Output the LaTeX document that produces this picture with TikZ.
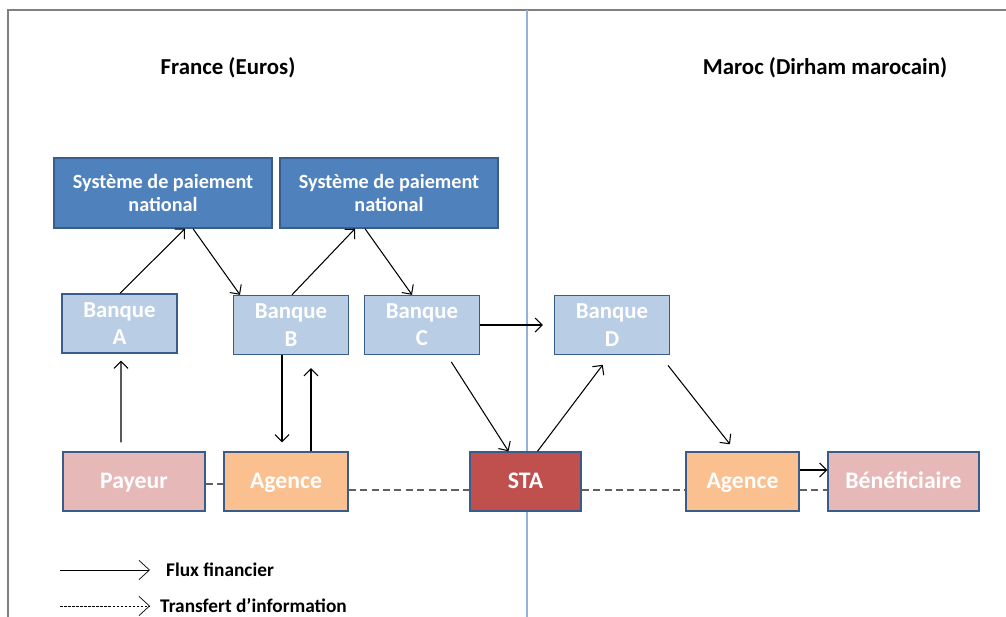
\documentclass[tikz,border=0pt]{standalone}
\usepackage{fontspec}
\setmainfont{Carlito}
\usepackage{tikz}
\usetikzlibrary{calc, arrows.meta}
\definecolor{spnfill}{HTML}{4F81BD}
\definecolor{bqfill}{HTML}{B9CDE5}
\definecolor{boxline}{HTML}{385D8A}
\definecolor{payfill}{HTML}{E6B9B8}
\definecolor{agfill}{HTML}{FAC090}
\definecolor{stafill}{HTML}{C0504D}
\definecolor{divline}{HTML}{95B3D7}
\tikzstyle{basebox} = [draw=boxline, thick, rectangle, text=white,
    font=\bfseries, align=center, inner sep=2pt]
\tikzstyle{spnbox} = [basebox, fill=spnfill, minimum width=4.36cm,
    minimum height=1.4cm, font=\bfseries\fontsize{11.5}{13.5}\selectfont]
\tikzstyle{bqbox} = [basebox, fill=bqfill, minimum width=2.3cm,
    minimum height=1.18cm, font=\bfseries\fontsize{13}{15.5}\selectfont]
\tikzstyle{lowbox} = [basebox, minimum height=1.18cm, text height=2.2ex, text depth=0.5ex,
    font=\bfseries\fontsize{13.5}{15.5}\selectfont]
\tikzstyle{flux} = [semithick, -{Straight Barb[length=4pt,width=8pt]}]
\tikzstyle{info} = [line width=0.9pt, dash pattern=on 4pt off 2.5pt, gray!75!black]

\begin{document}
\begin{tikzpicture}[x=0.02cm, y=-0.02cm]

	\useasboundingbox (0,0) rectangle (1006,617);

	% cadre et separation
	\draw[gray, thick] (8,617) |- (1006,10);
	\draw[divline, thick] (527,10) -- (527,617);

	\node[font=\bfseries\fontsize{13}{15}\selectfont] (fr) at (228,68) {France (Euros)};
	\node[font=\bfseries\fontsize{13}{15}\selectfont] (ma) at (825,68) {Maroc (Dirham marocain)};

	% systemes de paiement
	\node[spnbox] (spnA) at (163,193) {Système de paiement\\national};
	\node[spnbox] (spnB) at (389,193) {Système de paiement\\national};

	% banques
	\node[bqbox] (bqA) at (119.5,323.5) {Banque\\A};
	\node[bqbox] (bqB) at (291,325) {Banque\\B};
	\node[bqbox] (bqC) at (422,325) {Banque\\C};
	\node[bqbox] (bqD) at (612,325) {Banque\\D};

	% ligne du bas
	\node[lowbox, fill=payfill, minimum width=2.84cm] (payeur) at (134,481.5) {Payeur};
	\node[lowbox, fill=agfill, minimum width=2.48cm] (agFR) at (286,481.5) {Agence};
	\node[lowbox, fill=stafill, minimum width=2.22cm] (sta) at (525.5,481.5) {STA};
	\node[lowbox, fill=agfill, minimum width=2.26cm] (agMA) at (742.5,481.5) {Agence};
	\node[lowbox, fill=payfill, minimum width=3.02cm] (benef) at (903.5,481.5) {Bénéficiaire};

	% flux financiers
	\draw[flux] ($(bqA.north)+(0.5,0)$) -- ($(spnA.south)+(22,0)$); %A->SPN
	\draw[flux] ($(spnA.south)+(30,0)$) -- ($(bqB.north)+(-51,0)$); %SPN->B
	\draw[flux] ($(bqB.north)+(1,0)$) -- ($(spnB.south)+(-34,0)$); %B->SPN
	\draw[flux] ($(spnB.south)+(-24,0)$) -- ($(bqC.north)+(-10,0)$); %SPN->C
	\draw[flux, shorten >=0.22cm] (bqC.east) -- (bqD.west); %C->D
	\draw[flux, shorten <=0.16cm] ($(bqC.south)+(25,0)$) -- ($(sta.north)+(-17,0)$); %C->STA
	\draw[flux, shorten >=0.24cm] ($(sta.north)+(12,0)$) -- ($(bqD.south)+(-2,0)$); %STA->D
	\draw[flux, shorten <=0.26cm, shorten >=0.18cm] ($(bqD.south)+(48,0)$) -- ($(agMA.north)+(-7,0)$); %D->agence
	\draw[flux] ($(agMA.east)+(0,-11.5)$) -- ($(benef.west)+(0,-11.5)$); %agence->benef
	\draw[flux, shorten <=0.18cm, shorten >=0.14cm] ($(payeur.north)+(-13,0)$) -- ($(bqA.south)+(1.5,0)$); %payeur->A
	\draw[flux, shorten >=0.18cm] ($(bqB.south)+(-9,0)$) -- ($(agFR.north)+(-4,0)$); %B->agence
	\draw[flux, shorten >=0.26cm] ($(agFR.north)+(25,0)$) -- ($(bqB.south)+(20,0)$); %agence->B

	% transfert d'information
	\draw[info] ($(payeur.east)+(0,2.5)$) -- ($(agFR.west)+(0,2.5)$);
	\draw[info] ($(agFR.east)+(0,8.5)$) -- ($(sta.west)+(0,8.5)$);
	\draw[info] ($(sta.east)+(0,8.5)$) -- ($(agMA.west)+(0,8.5)$);
	\draw[info] ($(agMA.east)+(0,8.5)$) -- ($(benef.west)+(0,8.5)$);

	% legende
	\coordinate (legA) at (60,570);
	\coordinate (legB) at (150,570);
	\coordinate (legC) at (60,606);
	\coordinate (legD) at (150,606);
	\draw[thin, -{Straight Barb[length=6pt,width=11pt]}] (legA) -- (legB);
	\draw[thin, dash pattern=on 1.5pt off 0.8pt, -{Straight Barb[length=6pt,width=11pt]}] (legC) -- (legD);
	\node[anchor=west, font=\bfseries\fontsize{11}{13}\selectfont] (legflux) at (160,570) {Flux financier};
	\node[anchor=west, font=\bfseries\fontsize{11}{13}\selectfont] (leginfo) at (154,606) {Transfert d’information};

\end{tikzpicture}
\end{document}
